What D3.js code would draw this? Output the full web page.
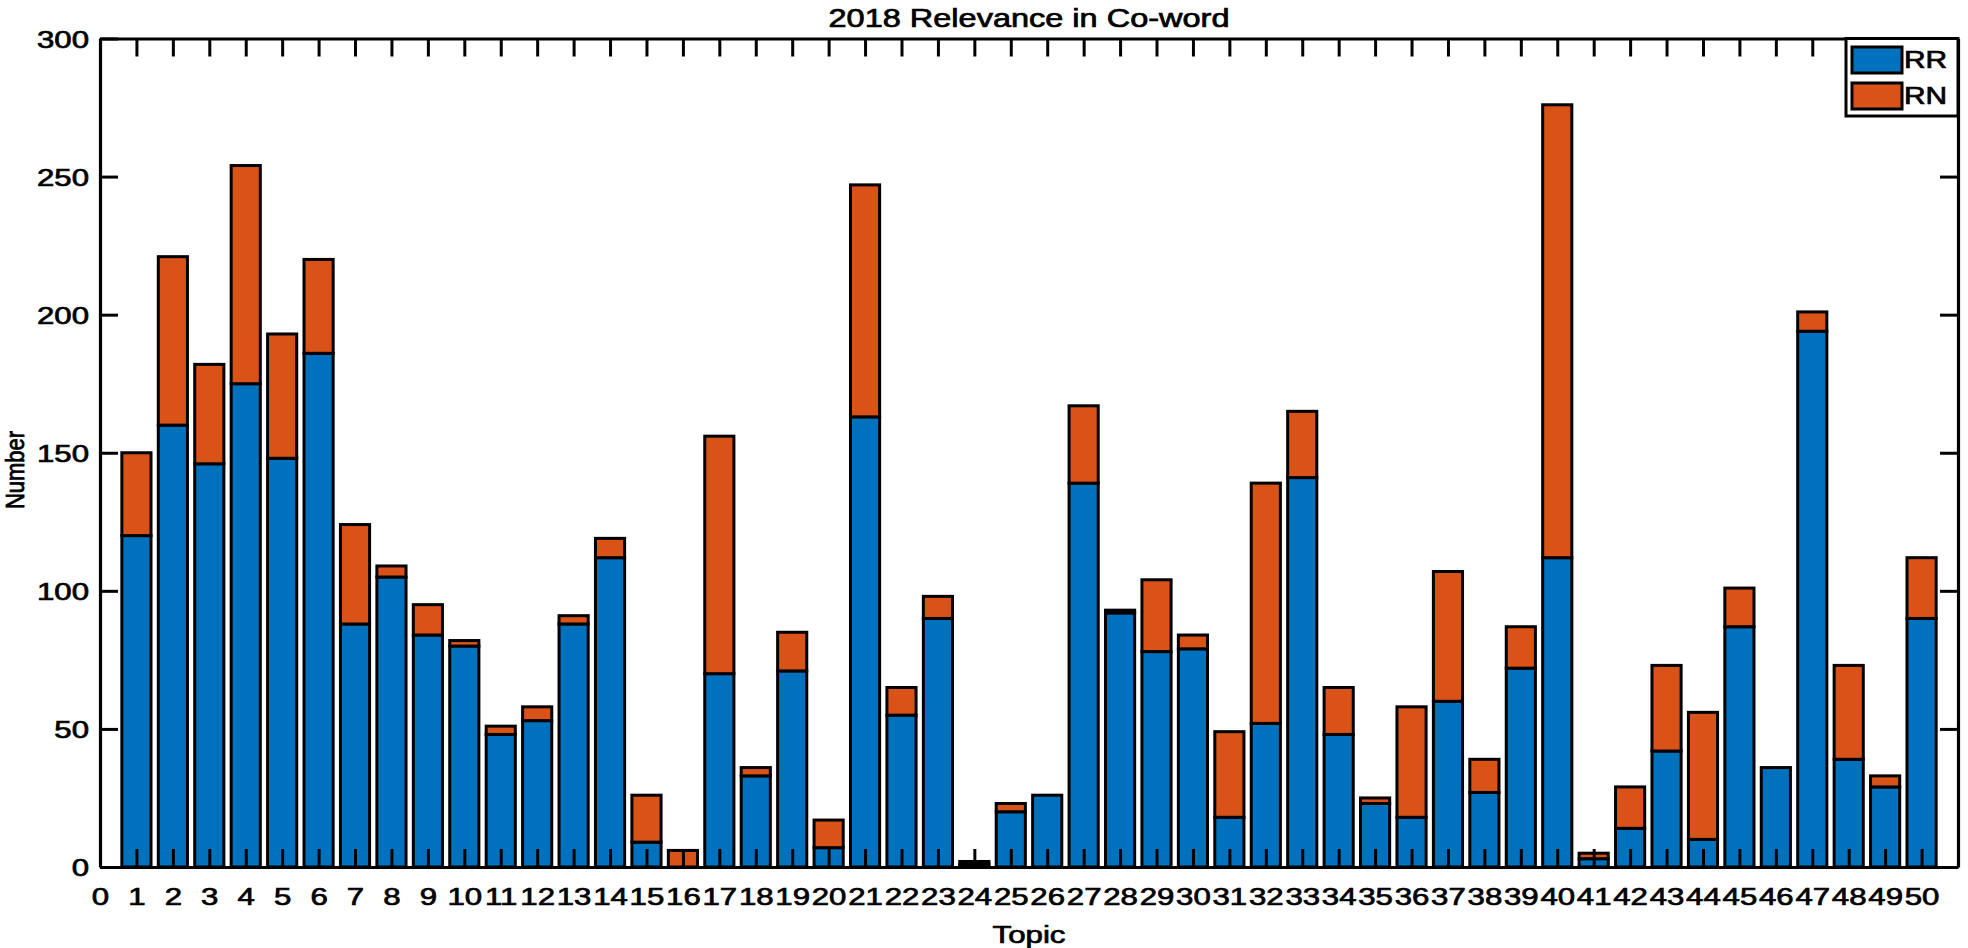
<!DOCTYPE html>
<html>
<head>
<meta charset="utf-8">
<script src="https://cdn.jsdelivr.net/npm/d3@7"></script>
<style>
  body { margin: 0; background: #fff; }
  text { font-family: "Liberation Sans", Arial, sans-serif; fill: #000; stroke: #000; stroke-width: 0.7px; }
</style>
</head>
<body>
<div id="chart"></div>
<script>
// Stacked bars of relevance per topic

let topics = [1, 2, 3, 4, 5, 6, 7, 8, 9, 10, 11, 12, 13, 14, 15, 16, 17, 18, 19, 20,
	21, 22, 23, 24, 25, 26, 27, 28, 29, 30, 31, 32, 33, 34, 35, 36, 37, 38, 39, 40,
	41, 42, 43, 44, 45, 46, 47, 48, 49, 50];
let rr = [120, 160, 146, 175, 148, 186, 88, 105, 84, 80, 48, 53, 88, 112, 9, 0, 70, 33, 71, 7,
	163, 55, 90, 1, 20, 26, 139, 92, 78, 79, 18, 52, 141, 48, 23, 18, 60, 27, 72, 112,
	3, 14, 42, 10, 87, 36, 194, 39, 29, 90];
let rn = [30, 61, 36, 79, 45, 34, 36, 4, 11, 2, 3, 5, 3, 7, 17, 6, 86, 3, 14, 10,
	84, 10, 8, 1, 3, 0, 28, 1, 26, 5, 31, 87, 24, 17, 2, 40, 47, 12, 15, 164,
	2, 15, 31, 46, 14, 0, 7, 34, 4, 22];
let seriesNames = ["RR", "RN"];
let seriesColors = ["#0072BD", "#D95319"];
let xTicks = [0, 1, 2, 3, 4, 5, 6, 7, 8, 9, 10, 11, 12, 13, 14, 15, 16, 17, 18, 19, 20,
	21, 22, 23, 24, 25, 26, 27, 28, 29, 30, 31, 32, 33, 34, 35, 36, 37, 38, 39, 40,
	41, 42, 43, 44, 45, 46, 47, 48, 49, 50];
let yTicks = [0, 50, 100, 150, 200, 250, 300];

let chartW = 1968, chartH = 948;
let axLeft = 100, axRight = 1958, axTop = 38.5, axBottom = 867;
let stretch = 1.3; // text in the picture is wider than normal

let svg = d3.select("#chart").append("svg")
	.attr("width", chartW)
	.attr("height", chartH);

let x = d3.scaleLinear().domain([0, 51]).range([axLeft, axRight]);
let y = d3.scaleLinear().domain([0, 300]).range([axBottom, axTop]);
let barW = x(0.8) - x(0);

// build rows for the stack
let rows = topics.map((t, i) => ({ topic: t, RR: rr[i], RN: rn[i] }));
let stacked = d3.stack().keys(seriesNames)(rows);

svg.append("g").selectAll("g")
	.data(stacked)
	.enter().append("g")
	.attr("fill", (d, i) => seriesColors[i])
	.selectAll("rect")
	.data(d => d)
	.enter().append("rect")
	.attr("x", d => x(d.data.topic) - barW / 2)
	.attr("y", d => y(d[1]))
	.attr("width", barW)
	.attr("height", d => y(d[0]) - y(d[1]))
	.attr("stroke", "#000")
	.attr("stroke-width", 3);

// axes, ticks pointing inward on all four sides
let styleAxis = (g) => {
	g.select(".domain").attr("stroke", "#000").attr("stroke-width", 3.2);
	g.selectAll(".tick line").attr("stroke", "#000").attr("stroke-width", 3);
};

let xAxis = svg.append("g")
	.attr("transform", "translate(0," + axBottom + ")")
	.call(d3.axisBottom(x).tickValues(xTicks).tickFormat(d3.format("d"))
		.tickSizeInner(-18).tickSizeOuter(0).tickPadding(0))
	.call(styleAxis);
xAxis.selectAll("text")
	.attr("y", 0).attr("dy", 0)
	.attr("transform", "translate(0,38) scale(" + stretch + ",1)")
	.style("font-size", "24px");

svg.append("g")
	.attr("transform", "translate(0," + axTop + ")")
	.call(d3.axisTop(x).tickValues(xTicks).tickFormat("")
		.tickSizeInner(-18).tickSizeOuter(0))
	.call(styleAxis);

let yAxis = svg.append("g")
	.attr("transform", "translate(" + axLeft + ",0)")
	.call(d3.axisLeft(y).tickValues(yTicks)
		.tickSizeInner(-18).tickSizeOuter(0).tickPadding(0))
	.call(styleAxis);
yAxis.selectAll("text")
	.attr("x", 0).attr("dy", "0.36em")
	.attr("transform", "translate(-11,0) scale(" + stretch + ",1)")
	.style("font-size", "24px");

svg.append("g")
	.attr("transform", "translate(" + axRight + ",0)")
	.call(d3.axisRight(y).tickValues(yTicks).tickFormat("")
		.tickSizeInner(-18).tickSizeOuter(0))
	.call(styleAxis);

// titles
svg.append("text")
	.attr("text-anchor", "middle")
	.attr("transform", "translate(" + (axLeft + axRight) / 2 + ",27) scale(" + stretch + ",1)")
	.style("font-size", "25px")
	.text("2018 Relevance in Co-word");

svg.append("text")
	.attr("text-anchor", "middle")
	.attr("transform", "translate(" + (axLeft + axRight) / 2 + ",943) scale(" + stretch + ",1)")
	.style("font-size", "24px")
	.text("Topic");

svg.append("text")
	.attr("text-anchor", "middle")
	.attr("transform", "translate(24,470) scale(1.15,1) rotate(-90)")
	.style("font-size", "22px")
	.text("Number");

// legend in the top right corner
let legend = svg.append("g");
legend.append("rect")
	.attr("x", 1846).attr("y", axTop)
	.attr("width", axRight - 1846).attr("height", 116 - axTop)
	.attr("fill", "#fff")
	.attr("stroke", "#000")
	.attr("stroke-width", 3);

let item = legend.selectAll(".item")
	.data(seriesNames)
	.enter().append("g")
	.attr("class", "item")
	.attr("transform", (d, i) => "translate(1852," + (47 + i * 36) + ")");

item.append("rect")
	.attr("width", 50).attr("height", 26)
	.attr("fill", (d, i) => seriesColors[i])
	.attr("stroke", "#000")
	.attr("stroke-width", 3);

item.append("text")
	.attr("transform", "translate(52,21) scale(" + stretch + ",1)")
	.style("font-size", "23px")
	.text(d => d);
</script>
</body>
</html>
